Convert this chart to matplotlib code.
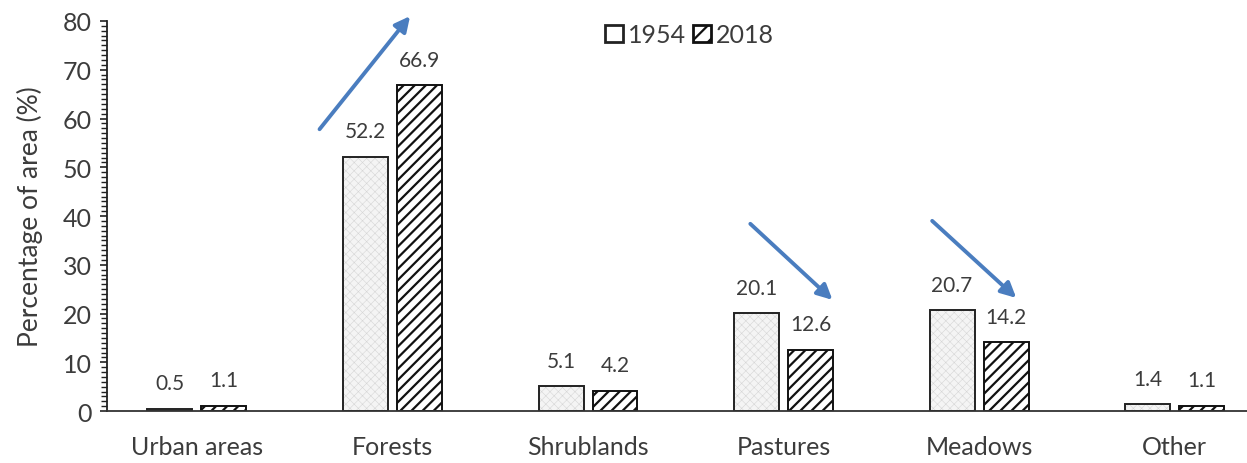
import matplotlib
matplotlib.use("Agg")
import matplotlib.pyplot as plt
from matplotlib.patches import Patch
from matplotlib.ticker import MultipleLocator
import numpy as np

categories = ["Urban areas", "Forests", "Shrublands", "Pastures", "Meadows", "Other"]
values_1954 = [0.5, 52.2, 5.1, 20.1, 20.7, 1.4]
values_2018 = [1.1, 66.9, 4.2, 12.6, 14.2, 1.1]
series_labels = ["1954", "2018"]

plt.rcParams["font.family"] = ["Lato", "DejaVu Sans"]
plt.rcParams["hatch.linewidth"] = 1.6

text_color = "#3c3c3c"

fig = plt.figure(figsize=(12.47, 4.64), dpi=100)
ax = fig.add_axes([0.0858, 0.112, 0.9142, 0.8406])

x = np.arange(len(categories))
w = 0.23
off = 0.138

bars_a = ax.bar(x - off, values_1954, w, facecolor="#f4f4f4", edgecolor="#222222",
                linewidth=1.4, hatch="xxxx", zorder=2)
bars_b = ax.bar(x + off, values_2018, w, facecolor="white", edgecolor="#111111",
                linewidth=1.4, hatch="///", zorder=2)

# faint dotted texture on the 1954 bars
for b in bars_a:
    b._hatch_color = (0.84, 0.84, 0.84, 1.0)
    if hasattr(b, "set_hatch_linewidth"):
        b.set_hatch_linewidth(0.4)

for bars, vals in ((bars_a, values_1954), (bars_b, values_2018)):
    for b, v in zip(bars, vals):
        ax.annotate(f"{v:.1f}", (b.get_x() + b.get_width() / 2, v),
                    xytext=(0, 11), textcoords="offset points",
                    ha="center", va="bottom", fontsize=15, color=text_color)

ax.set_xlim(-0.46, 5.37)
ax.set_ylim(0, 80)
ax.yaxis.set_major_locator(MultipleLocator(10))
ax.yaxis.set_minor_locator(MultipleLocator(1))
ax.tick_params(axis="y", which="major", length=5, width=1.2, labelsize=18,
               colors="#222222", labelcolor=text_color, direction="out", pad=6)
ax.tick_params(axis="y", which="minor", length=4, width=1.0, colors="#222222")
ax.tick_params(axis="x", length=0, labelsize=18, pad=17, labelcolor=text_color)
ax.set_xticks(x)
ax.set_xticklabels(categories)
ax.set_ylabel("Percentage of area (%)", fontsize=19, color=text_color, labelpad=14)

for s in ("top", "right"):
    ax.spines[s].set_visible(False)
ax.spines["left"].set_linewidth(1.3)
ax.spines["bottom"].set_linewidth(1.3)
ax.spines["left"].set_color("#222222")
ax.spines["bottom"].set_color("#333333")

handles = [
    Patch(facecolor="white", edgecolor="#222222", linewidth=2.0, label=series_labels[0]),
    Patch(facecolor="white", edgecolor="#111111", linewidth=2.0, hatch="//", label=series_labels[1]),
]
ax.legend(handles=handles, loc="center", bbox_to_anchor=(0.511, 0.965), ncol=2,
          frameon=False, fontsize=18, handlelength=0.7, handleheight=0.7,
          handletextpad=0.2, columnspacing=0.3, borderaxespad=0,
          labelcolor=text_color)

# trend arrows
arrow_color = "#4a7dbf"
arrows = [((0.627, 57.8), (1.09, 81.0)),
          ((2.83, 38.4), (3.25, 22.8)),
          ((3.76, 39.0), (4.19, 23.2))]
for start, end in arrows:
    ax.annotate("", xy=end, xytext=start, xycoords="data",
                arrowprops=dict(arrowstyle="-|>,head_length=0.9,head_width=0.45",
                                color=arrow_color, lw=2.8, shrinkA=0, shrinkB=0),
                annotation_clip=False)

fig.savefig("out.png", dpi=100)
